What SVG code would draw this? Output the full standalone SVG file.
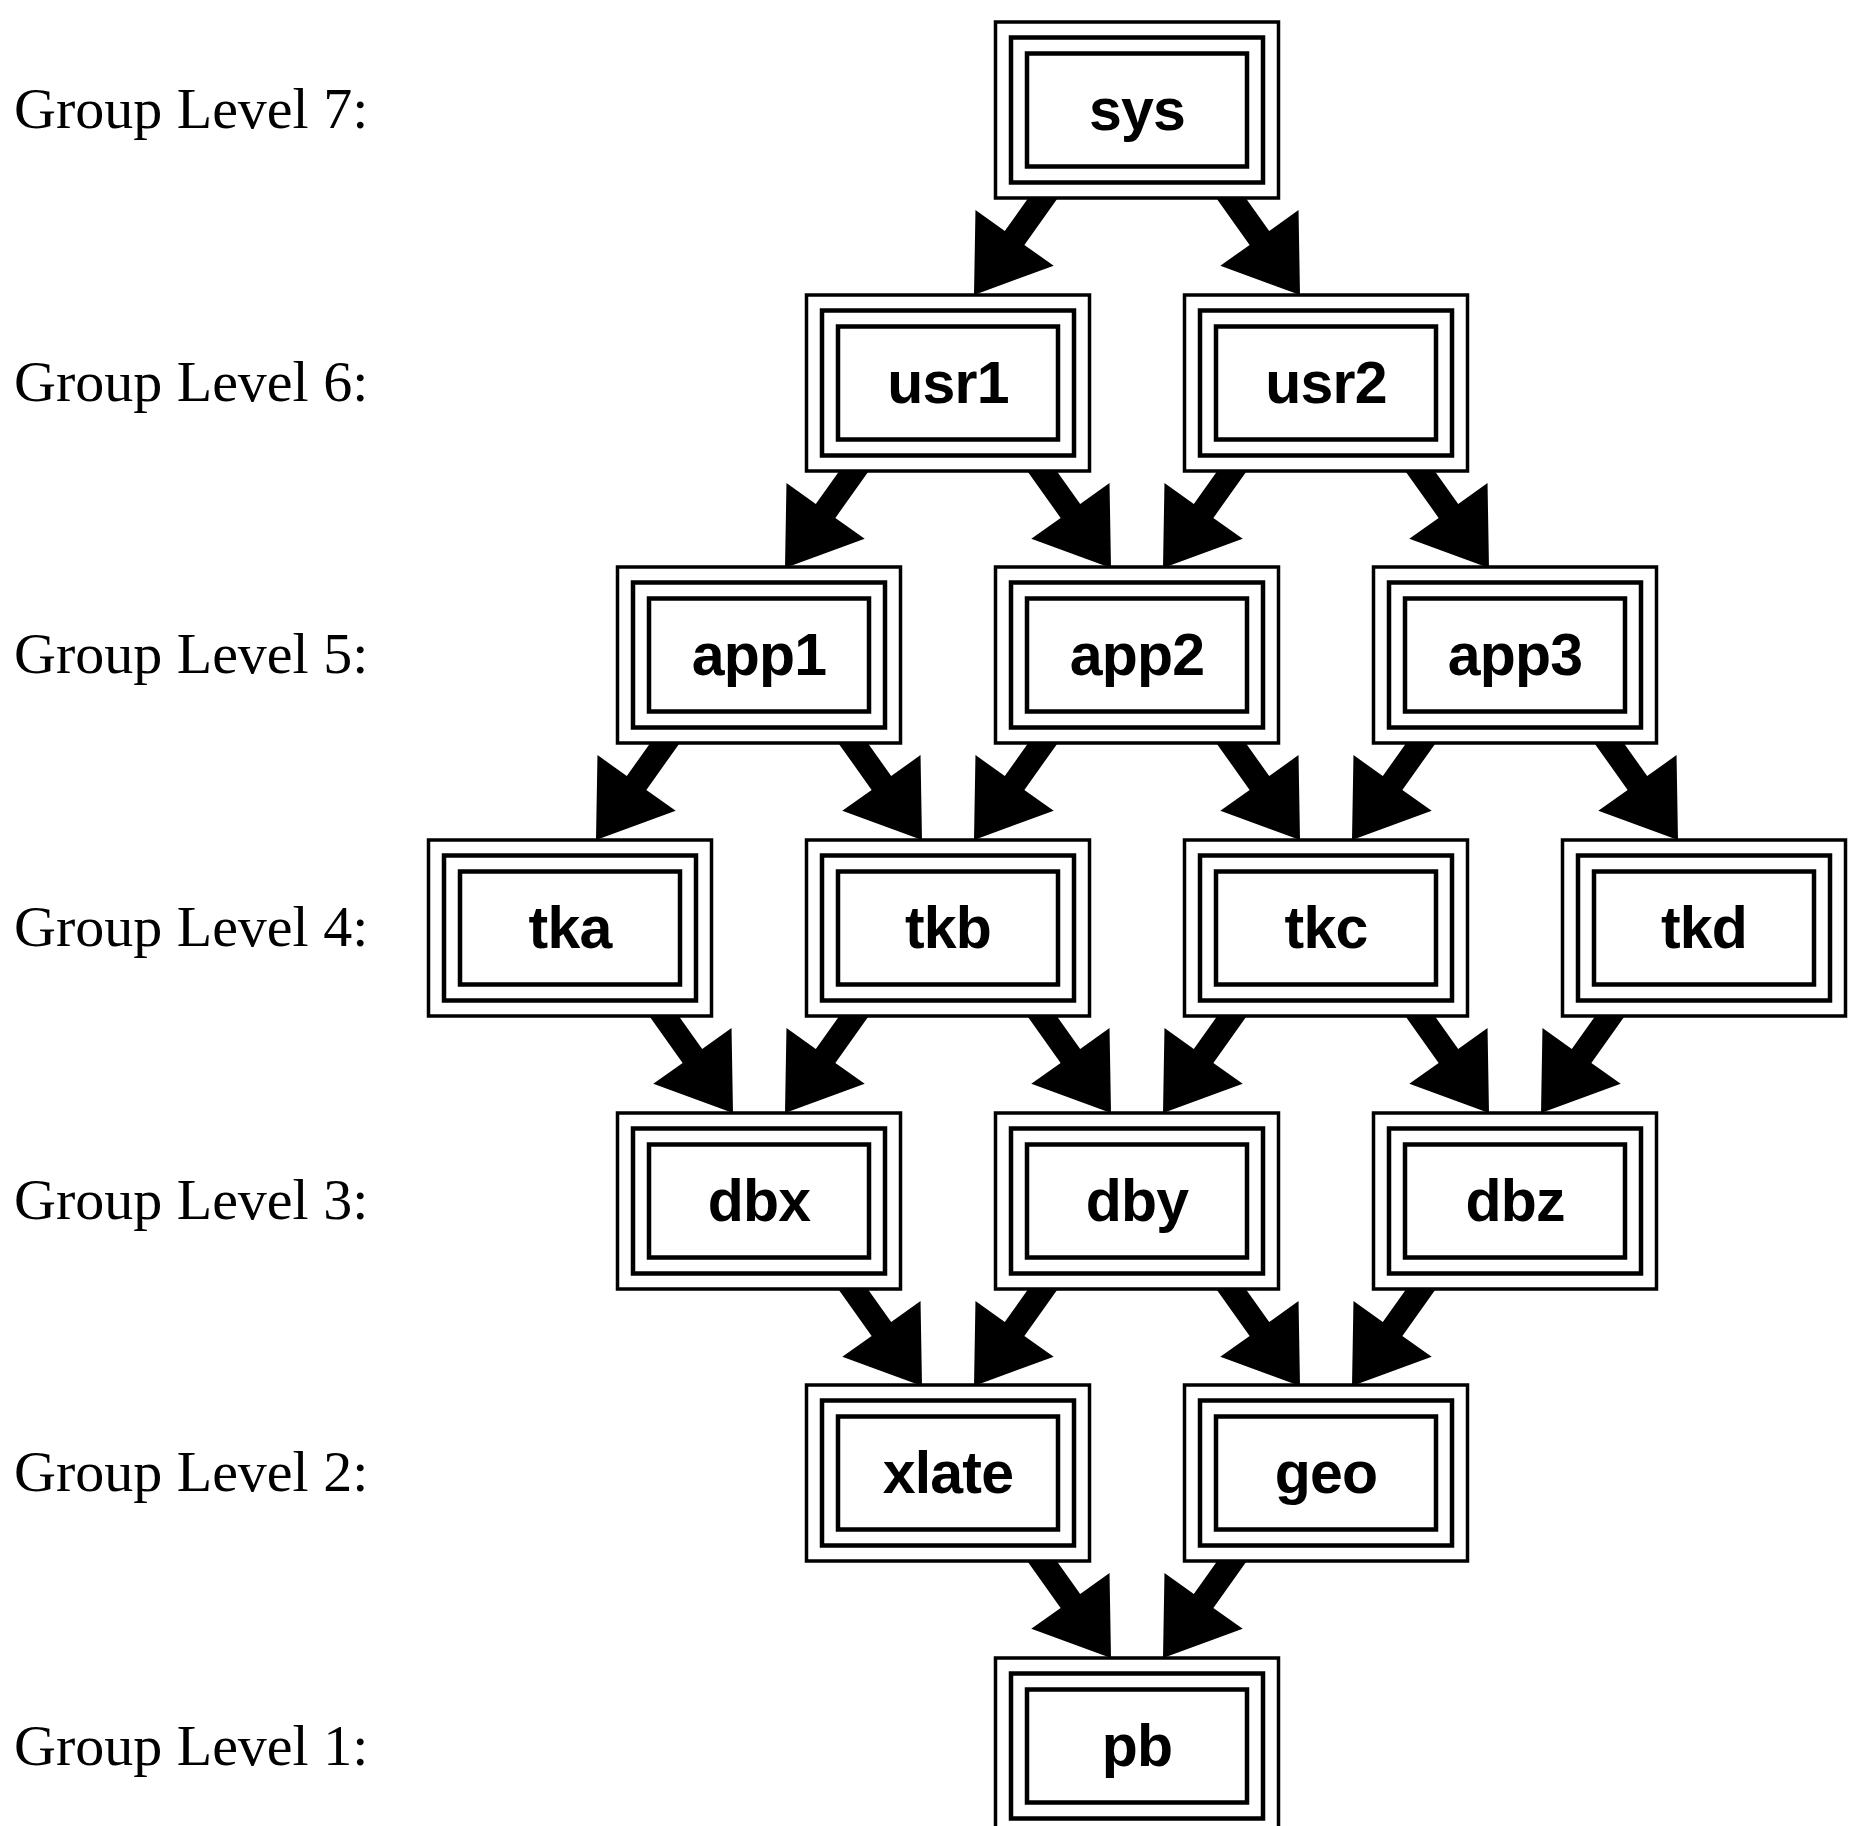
<svg xmlns="http://www.w3.org/2000/svg" width="1849" height="1826" viewBox="0 0 1849 1826">
<style>
.o{fill:#fff;stroke:#000;stroke-width:3.5}
.m{fill:none;stroke:#000;stroke-width:4.5}
.i{fill:none;stroke:#000;stroke-width:4.5}
.t{font-family:"Liberation Sans",Arial,Helvetica,sans-serif;font-weight:bold;font-size:59px;text-anchor:middle;fill:#000;letter-spacing:-0.8px}
.l{font-family:"Liberation Serif","Times New Roman",serif;font-size:58px;fill:#000}
.a{fill:#000;stroke:none}
</style>
<defs>
<polygon id="arR" class="a" points="-1.82,-23.26 38.19,32.98 67.53,12.11 69,97 -10.71,67.77 18.63,46.9 -21.38,-9.34"/>
<polygon id="arL" class="a" points="1.82,-23.26 -38.19,32.98 -67.53,12.11 -69,97 10.71,67.77 -18.63,46.9 21.38,-9.34"/>
<g id="box">
<rect class="o" x="-141.5" y="0" width="283" height="176"/>
<rect class="m" x="-126" y="15.5" width="252" height="145"/>
<rect class="i" x="-110" y="31.5" width="220" height="113"/>
</g>
</defs>
<g id="labels">
<text class="l" x="14" y="128">Group Level 7:</text>
<text class="l" x="14" y="401">Group Level 6:</text>
<text class="l" x="14" y="673">Group Level 5:</text>
<text class="l" x="14" y="946">Group Level 4:</text>
<text class="l" x="14" y="1219">Group Level 3:</text>
<text class="l" x="14" y="1491">Group Level 2:</text>
<text class="l" x="14" y="1765">Group Level 1:</text>
</g>
<g id="connectors">
<use href="#arL" x="1043" y="198"/>
<use href="#arR" x="1231" y="198"/>
<use href="#arL" x="854" y="471"/>
<use href="#arR" x="1042" y="471"/>
<use href="#arL" x="1232" y="471"/>
<use href="#arR" x="1420" y="471"/>
<use href="#arL" x="665" y="743"/>
<use href="#arR" x="853" y="743"/>
<use href="#arL" x="1043" y="743"/>
<use href="#arR" x="1231" y="743"/>
<use href="#arL" x="1421" y="743"/>
<use href="#arR" x="1609" y="743"/>
<use href="#arR" x="664" y="1016"/>
<use href="#arL" x="854" y="1016"/>
<use href="#arR" x="1042" y="1016"/>
<use href="#arL" x="1232" y="1016"/>
<use href="#arR" x="1420" y="1016"/>
<use href="#arL" x="1610" y="1016"/>
<use href="#arR" x="853" y="1289"/>
<use href="#arL" x="1043" y="1289"/>
<use href="#arR" x="1231" y="1289"/>
<use href="#arL" x="1421" y="1289"/>
<use href="#arR" x="1042" y="1561"/>
<use href="#arL" x="1232" y="1561"/>
</g>
<g id="sys"><use href="#box" x="1137" y="22"/><text class="t" x="1137" y="130">sys</text></g>
<g id="usr1"><use href="#box" x="948" y="295"/><text class="t" x="948" y="403">usr1</text></g>
<g id="usr2"><use href="#box" x="1326" y="295"/><text class="t" x="1326" y="403">usr2</text></g>
<g id="app1"><use href="#box" x="759" y="567"/><text class="t" x="759" y="675">app1</text></g>
<g id="app2"><use href="#box" x="1137" y="567"/><text class="t" x="1137" y="675">app2</text></g>
<g id="app3"><use href="#box" x="1515" y="567"/><text class="t" x="1515" y="675">app3</text></g>
<g id="tka"><use href="#box" x="570" y="840"/><text class="t" x="570" y="948">tka</text></g>
<g id="tkb"><use href="#box" x="948" y="840"/><text class="t" x="948" y="948">tkb</text></g>
<g id="tkc"><use href="#box" x="1326" y="840"/><text class="t" x="1326" y="948">tkc</text></g>
<g id="tkd"><use href="#box" x="1704" y="840"/><text class="t" x="1704" y="948">tkd</text></g>
<g id="dbx"><use href="#box" x="759" y="1113"/><text class="t" x="759" y="1221">dbx</text></g>
<g id="dby"><use href="#box" x="1137" y="1113"/><text class="t" x="1137" y="1221">dby</text></g>
<g id="dbz"><use href="#box" x="1515" y="1113"/><text class="t" x="1515" y="1221">dbz</text></g>
<g id="xlate"><use href="#box" x="948" y="1385"/><text class="t" x="948" y="1493">xlate</text></g>
<g id="geo"><use href="#box" x="1326" y="1385"/><text class="t" x="1326" y="1493">geo</text></g>
<g id="pb"><use href="#box" x="1137" y="1658"/><text class="t" x="1137" y="1766">pb</text></g>
</svg>
